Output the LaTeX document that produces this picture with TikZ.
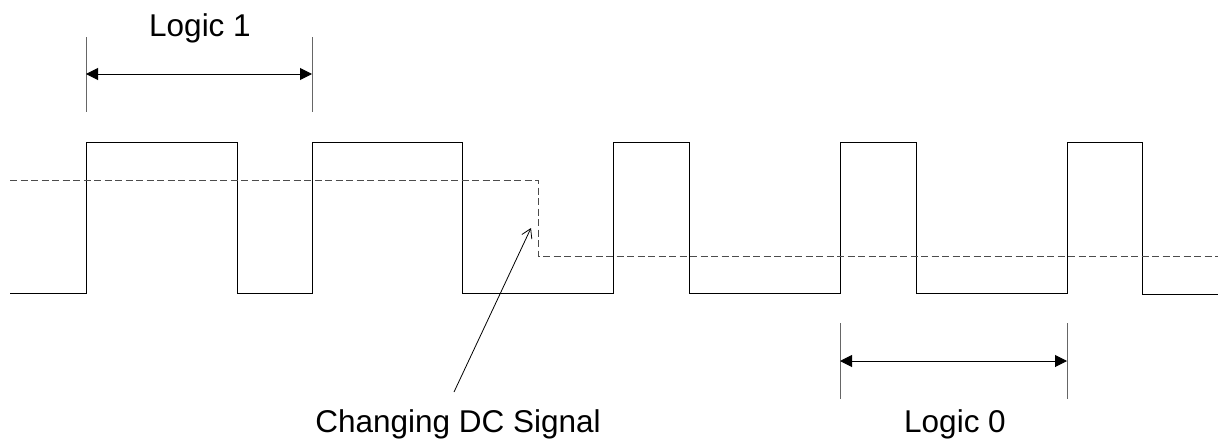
\documentclass[tikz,border=0pt]{standalone}
\usepackage{fontspec}
\setmainfont{Liberation Sans}
\usetikzlibrary{arrows.meta}
\begin{document}
\begin{tikzpicture}[x=1pt,y=-1pt,
  wave/.style={line width=1pt,black},
  dcline/.style={line width=1pt,dash pattern=on 7pt off 3.5pt,black!70},
  tick/.style={line width=1pt,black!60},
  dim/.style={line width=1pt,{Triangle[length=12pt,width=12pt]}-{Triangle[length=12pt,width=12pt]}},
  lbl/.style={font=\fontsize{31.5}{33}\selectfont,inner sep=0pt,anchor=base},
  pointer/.style={line width=0.8pt,-{Straight Barb[length=9pt,width=11pt]}}]
\useasboundingbox (0,0) rectangle (1219,439);
% square wave
\draw[wave] (10,293) -- (86,293) -- (86,142) -- (237,142) -- (237,293) -- (312,293) -- (312,142)
  -- (462,142) -- (462,293) -- (613,293) -- (613,142) -- (689,142) -- (689,293)
  -- (840,293) -- (840,142) -- (916,142) -- (916,293) -- (1067,293) -- (1067,142)
  -- (1142,142) -- (1142,294) -- (1218,294);
% DC level
\draw[dcline] (10,180) -- (538,180) -- (538,256) -- (1218,256);
% Logic 1 dimension
\coordinate (a1t) at (86,37); \coordinate (a1b) at (86,112);
\coordinate (b1t) at (312,37); \coordinate (b1b) at (312,112);
\draw[tick] (a1t) -- (a1b);
\draw[tick] (b1t) -- (b1b);
\coordinate (a1) at (86,74); \coordinate (b1) at (312,74);
\draw[dim] (a1) -- (b1);
\node[lbl] (l1) at (200,36) {Logic 1};
% Logic 0 dimension
\coordinate (a0t) at (840,323); \coordinate (a0b) at (840,399);
\coordinate (b0t) at (1067,323); \coordinate (b0b) at (1067,399);
\draw[tick] (a0t) -- (a0b);
\draw[tick] (b0t) -- (b0b);
\coordinate (a0) at (840,361); \coordinate (b0) at (1067,361);
\draw[dim] (a0) -- (b0);
\node[lbl] (l0) at (955,432) {Logic 0};
% Changing DC signal
\node[lbl] (dc) at (458,432) {Changing DC Signal};
\coordinate (dctail) at (454,392);
\coordinate (dctip) at (531,228);
\draw[pointer] (dctail) -- (dctip);
\end{tikzpicture}
\end{document}
